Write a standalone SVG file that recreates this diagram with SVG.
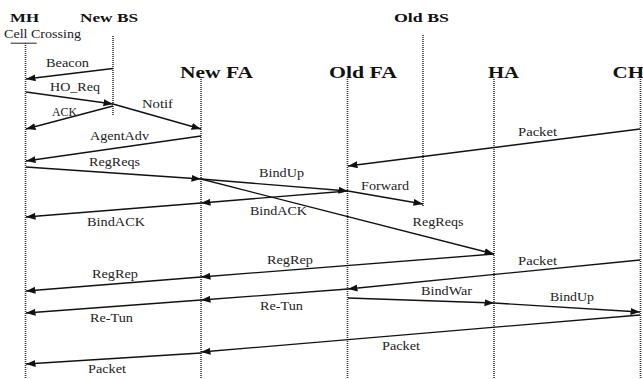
<svg xmlns="http://www.w3.org/2000/svg" width="643" height="379" viewBox="0 0 643 379">
  <style>
    .bg { fill: #ffffff; }
    .life { stroke: #333333; stroke-width: 1.6; stroke-dasharray: 1 1; fill: none; }
    .msg { stroke: #111111; stroke-width: 1.3; fill: none; marker-end: url(#arrow); }
    .head1 { font-family: "Liberation Serif", "Times New Roman", serif; font-weight: bold; font-size: 13px; fill: #111111; }
    .head2 { font-family: "Liberation Serif", "Times New Roman", serif; font-weight: bold; font-size: 16.5px; fill: #111111; }
    .lbl { font-family: "Liberation Serif", "Times New Roman", serif; font-size: 11.5px; fill: #222222; }
  </style>
  <defs>
    <marker id="arrow" markerUnits="userSpaceOnUse" markerWidth="10" markerHeight="8" refX="9.5" refY="3.5" orient="auto">
      <path d="M0,0 L9.5,3.5 L0,7 z" fill="#111111"/>
    </marker>
  </defs>

  <rect class="bg" x="0" y="0" width="643" height="379"/>

  <!-- entities with their lifelines -->
  <g id="mh">
    <text class="head1" x="10" y="21.5" textLength="29" lengthAdjust="spacingAndGlyphs">MH</text>
    <text class="lbl" x="4" y="38.3" textLength="77" lengthAdjust="spacingAndGlyphs">Cell Crossing</text>
    <line x1="10.7" y1="43.2" x2="36.7" y2="43.2" stroke="#222222" stroke-width="1"/>
    <line class="life" x1="25.5" y1="43" x2="25.5" y2="379"/>
  </g>
  <g id="new-bs">
    <text class="head1" x="80" y="21.5" textLength="58" lengthAdjust="spacingAndGlyphs">New BS</text>
    <line class="life" x1="113" y1="36" x2="113" y2="116"/>
  </g>
  <g id="old-bs">
    <text class="head1" x="394" y="21.5" textLength="55" lengthAdjust="spacingAndGlyphs">Old BS</text>
    <line class="life" x1="423" y1="35" x2="423" y2="207"/>
  </g>
  <g id="new-fa">
    <text class="head2" x="180" y="78" textLength="73" lengthAdjust="spacingAndGlyphs">New FA</text>
    <line class="life" x1="201" y1="79" x2="201" y2="379"/>
  </g>
  <g id="old-fa">
    <text class="head2" x="329" y="78" textLength="68" lengthAdjust="spacingAndGlyphs">Old FA</text>
    <line class="life" x1="347.5" y1="79" x2="347.5" y2="379"/>
  </g>
  <g id="ha">
    <text class="head2" x="488" y="78" textLength="31" lengthAdjust="spacingAndGlyphs">HA</text>
    <line class="life" x1="494" y1="79" x2="494" y2="379"/>
  </g>
  <g id="ch">
    <text class="head2" x="612.5" y="78" textLength="31.5" lengthAdjust="spacingAndGlyphs">CH</text>
    <line class="life" x1="640.5" y1="79" x2="640.5" y2="379"/>
  </g>

  <!-- message arrows -->
  <g id="connectors">
    <line class="msg" x1="113" y1="68.5" x2="26" y2="79"/>
    <line class="msg" x1="26" y1="92" x2="113" y2="104"/>
    <line class="msg" x1="113" y1="104" x2="201" y2="129"/>
    <line class="msg" x1="113" y1="106" x2="26" y2="129"/>
    <line class="msg" x1="201" y1="136" x2="26" y2="161"/>
    <line class="msg" x1="640" y1="129" x2="348" y2="166"/>
    <line class="msg" x1="26" y1="167" x2="201" y2="179"/>
    <line class="msg" x1="201" y1="179" x2="348" y2="191"/>
    <line class="msg" x1="201" y1="179" x2="494" y2="254"/>
    <line class="msg" x1="348" y1="191" x2="423" y2="204"/>
    <line class="msg" x1="348" y1="191" x2="201" y2="203"/>
    <line class="msg" x1="201" y1="203" x2="26" y2="217"/>
    <line class="msg" x1="494" y1="254" x2="201" y2="277"/>
    <line class="msg" x1="201" y1="277" x2="26" y2="291"/>
    <line class="msg" x1="640" y1="260" x2="348" y2="289"/>
    <line class="msg" x1="348" y1="289" x2="201" y2="300"/>
    <line class="msg" x1="201" y1="300" x2="26" y2="313"/>
    <line class="msg" x1="348" y1="298" x2="494" y2="303"/>
    <line class="msg" x1="494" y1="303" x2="640" y2="312"/>
    <line class="msg" x1="640" y1="315" x2="201" y2="352"/>
    <line class="msg" x1="201" y1="353" x2="26" y2="364"/>
  </g>

  <!-- message labels -->
  <g id="labels">
    <text class="lbl" x="46" y="67" textLength="43" lengthAdjust="spacingAndGlyphs">Beacon</text>
    <text class="lbl" x="50" y="90.5" textLength="50" lengthAdjust="spacingAndGlyphs">HO_Req</text>
    <text class="lbl" x="142" y="108" textLength="31" lengthAdjust="spacingAndGlyphs">Notif</text>
    <text class="lbl" x="52" y="116" textLength="25" lengthAdjust="spacingAndGlyphs">ACK</text>
    <text class="lbl" x="90" y="140" textLength="59" lengthAdjust="spacingAndGlyphs">AgentAdv</text>
    <text class="lbl" x="518" y="136" textLength="39" lengthAdjust="spacingAndGlyphs">Packet</text>
    <text class="lbl" x="89" y="165.5" textLength="51" lengthAdjust="spacingAndGlyphs">RegReqs</text>
    <text class="lbl" x="259" y="177" textLength="45" lengthAdjust="spacingAndGlyphs">BindUp</text>
    <text class="lbl" x="361" y="190" textLength="48" lengthAdjust="spacingAndGlyphs">Forward</text>
    <text class="lbl" x="250" y="215" textLength="57" lengthAdjust="spacingAndGlyphs">BindACK</text>
    <text class="lbl" x="87" y="226" textLength="58" lengthAdjust="spacingAndGlyphs">BindACK</text>
    <text class="lbl" x="412.5" y="226" textLength="51" lengthAdjust="spacingAndGlyphs">RegReqs</text>
    <text class="lbl" x="267" y="264" textLength="46" lengthAdjust="spacingAndGlyphs">RegRep</text>
    <text class="lbl" x="518" y="265" textLength="39" lengthAdjust="spacingAndGlyphs">Packet</text>
    <text class="lbl" x="92" y="278" textLength="46" lengthAdjust="spacingAndGlyphs">RegRep</text>
    <text class="lbl" x="421" y="295" textLength="51" lengthAdjust="spacingAndGlyphs">BindWar</text>
    <text class="lbl" x="550" y="300.5" textLength="44" lengthAdjust="spacingAndGlyphs">BindUp</text>
    <text class="lbl" x="260" y="310" textLength="43" lengthAdjust="spacingAndGlyphs">Re-Tun</text>
    <text class="lbl" x="90" y="321.5" textLength="43" lengthAdjust="spacingAndGlyphs">Re-Tun</text>
    <text class="lbl" x="382" y="350" textLength="38" lengthAdjust="spacingAndGlyphs">Packet</text>
    <text class="lbl" x="88" y="373" textLength="38" lengthAdjust="spacingAndGlyphs">Packet</text>
  </g>
</svg>
